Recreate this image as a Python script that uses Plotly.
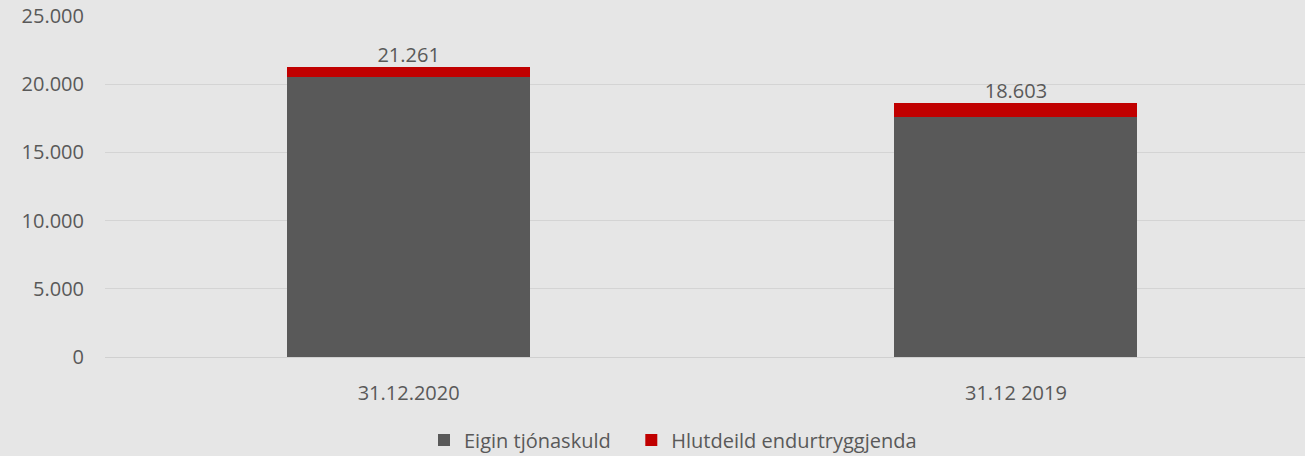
import plotly.graph_objects as go

categories = ["31.12.2020", "31.12 2019"]
eigin = [20530, 17595]
hlutdeild = [731, 1008]
totals = [21261, 18603]
total_labels = ["21.261", "18.603"]
series_names = ["Eigin tjónaskuld", "Hlutdeild endurtryggjenda"]

FONT = "'Open Sans', sans-serif"
TXT = "#595959"
FS = 20

fig = go.Figure()
fig.add_trace(go.Bar(x=categories, y=eigin, name=series_names[0] + "\u00a0\u00a0\u00a0",
                     marker=dict(color="#595959", line=dict(width=0)), width=0.4))
fig.add_trace(go.Bar(x=categories, y=hlutdeild, name=series_names[1],
                     marker=dict(color="#c00000", line=dict(width=0)), width=0.4))
fig.add_trace(go.Scatter(x=categories, y=totals, mode="text", text=total_labels,
                         textposition="top center", showlegend=False,
                         textfont=dict(size=FS, color=TXT, family=FONT),
                         cliponaxis=False, hoverinfo="skip"))

fig.update_layout(
    barmode="stack",
    width=1305, height=456,
    paper_bgcolor="#e6e6e6", plot_bgcolor="#e6e6e6",
    margin=dict(l=105, r=0, t=16, b=99, autoexpand=False),
    separators=",.",
    font=dict(family=FONT, size=FS, color=TXT),
    xaxis=dict(range=[-0.5, 1.476], showgrid=False, showline=True, linecolor="#d0d0d0",
               ticks="outside", ticklen=18, tickcolor="rgba(0,0,0,0)",
               tickfont=dict(size=FS, color=TXT)),
    yaxis=dict(range=[0, 25000], dtick=5000, tickformat=",d", showgrid=True,
               gridcolor="#d4d4d4", gridwidth=1, zeroline=False,
               ticks="outside", ticklen=16, tickcolor="rgba(0,0,0,0)",
               tickfont=dict(size=FS, color=TXT)),
    legend=dict(orientation="h", x=(424 - 105) / 1200, xanchor="left",
                yref="container", y=(456 - 440) / 456, yanchor="middle",
                font=dict(size=FS, color=TXT),
                traceorder="normal", bgcolor="rgba(0,0,0,0)", itemwidth=30),
    showlegend=True,
)

fig.write_html("out.html", config={"displayModeBar": False},
               post_script="document.body.style.margin='0';")
